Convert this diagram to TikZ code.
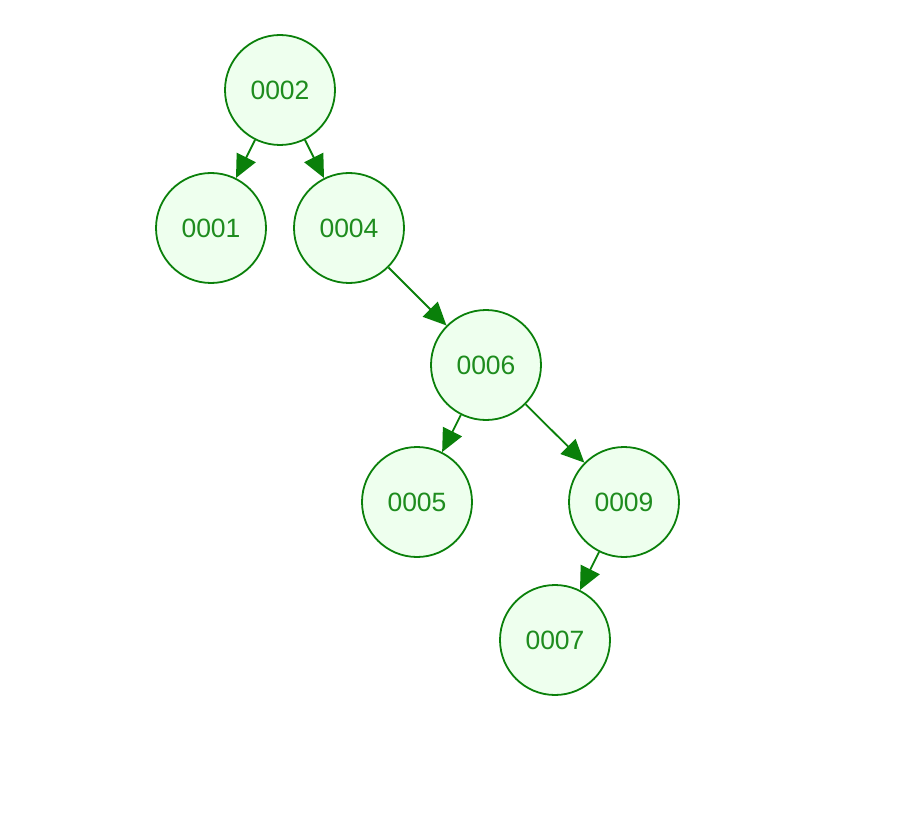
\documentclass[tikz,border=0pt]{standalone}
\usepackage{fontspec}
\setmainfont{Liberation Sans}
\usetikzlibrary{arrows.meta}
\definecolor{treegreen}{HTML}{0A800A}
\definecolor{treetext}{HTML}{1E8C1E}
\definecolor{treefill}{HTML}{EEFFEE}
\tikzset{
  keynode/.style={circle, draw=treegreen, fill=treefill, line width=1.8pt,
    minimum size=110pt, inner sep=0pt, text=treetext,
    font=\fontsize{26.5}{26.5}\selectfont},
  link/.style={draw=treegreen, line width=1.8pt,
    -{Triangle[length=23pt,width=21pt]}, treegreen}
}
\begin{document}
\begin{tikzpicture}[x=1pt, y=-1pt]
  \useasboundingbox (0,0) rectangle (905,821);
  \node[keynode] (n2) at (280,90) {0002};
  \node[keynode] (n1) at (211,228) {0001};
  \node[keynode] (n4) at (349,228) {0004};
  \node[keynode] (n6) at (486,365) {0006};
  \node[keynode] (n5) at (417,502) {0005};
  \node[keynode] (n9) at (624,502) {0009};
  \node[keynode] (n7) at (555,640) {0007};
  \draw[link] (n2) -- (n1);
  \draw[link] (n2) -- (n4);
  \draw[link] (n4) -- (n6);
  \draw[link] (n6) -- (n5);
  \draw[link] (n6) -- (n9);
  \draw[link] (n9) -- (n7);
\end{tikzpicture}
\end{document}
